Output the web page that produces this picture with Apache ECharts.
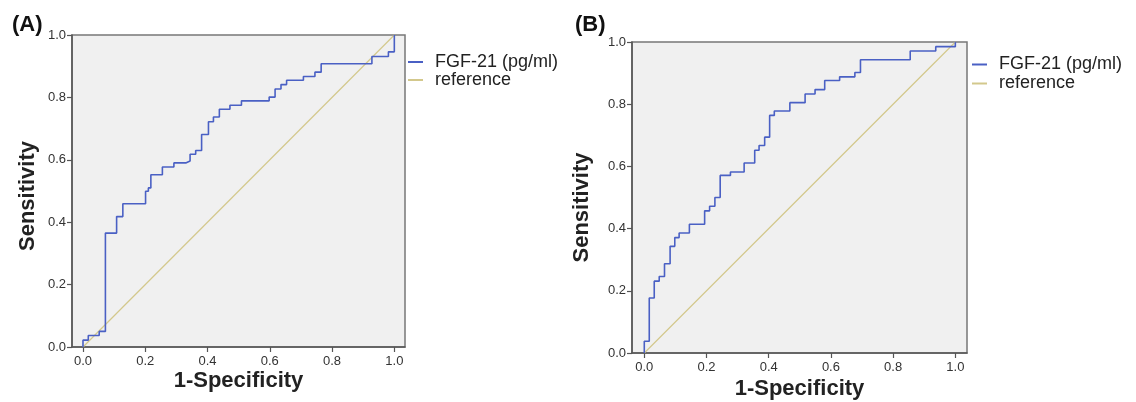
<!DOCTYPE html>
<html>
<head>
<meta charset="utf-8">
<script src="https://cdn.jsdelivr.net/npm/echarts@6/dist/echarts.min.js"></script>
<style>
  html, body { margin: 0; padding: 0; background: #ffffff; }
  #chart { width: 1136px; height: 402px; }
</style>
</head>
<body>
<div id="chart"></div>
<script>
// ROC operating points (1-specificity, sensitivity), panel A
const rocA_fpr = [0, 0, 0.017, 0.052, 0.072, 0.108, 0.128, 0.201, 0.210, 0.218, 0.255, 0.292, 0.330, 0.344, 0.362, 0.381, 0.403, 0.419, 0.438, 0.472, 0.509, 0.598, 0.617, 0.636, 0.654, 0.708, 0.745, 0.765, 0.928, 0.981, 1.0];
const rocA_tpr = [0, 0.022, 0.037, 0.050, 0.365, 0.418, 0.459, 0.499, 0.510, 0.552, 0.577, 0.590, 0.596, 0.618, 0.630, 0.681, 0.722, 0.737, 0.762, 0.775, 0.789, 0.801, 0.827, 0.841, 0.855, 0.867, 0.881, 0.908, 0.931, 0.946, 1.0];

// ROC operating points, panel B
const rocB_fpr = [0, 0, 0.016, 0.032, 0.048, 0.065, 0.083, 0.098, 0.112, 0.145, 0.194, 0.210, 0.227, 0.244, 0.277, 0.321, 0.355, 0.369, 0.387, 0.403, 0.418, 0.468, 0.517, 0.549, 0.580, 0.628, 0.677, 0.695, 0.855, 0.937, 1.0];
const rocB_tpr = [0, 0.038, 0.177, 0.231, 0.246, 0.287, 0.343, 0.371, 0.386, 0.414, 0.457, 0.472, 0.500, 0.571, 0.582, 0.611, 0.652, 0.667, 0.694, 0.764, 0.778, 0.805, 0.833, 0.847, 0.876, 0.888, 0.902, 0.943, 0.971, 0.985, 1.0];

// chance diagonal
const refX = [0, 1];
const refY = [0, 1];

const tickValues = [0, 0.2, 0.4, 0.6, 0.8, 1.0];
const seriesNames = ['FGF-21 (pg/ml)', 'reference'];
const panelLabels = ['(A)', '(B)'];
const xAxisTitle = '1-Specificity';
const yAxisTitle = 'Sensitivity';

const BLUE = '#4a60c4';
const TAN = '#d3c88c';
const FONT = '"Liberation Sans", Arial, sans-serif';

const pairs = (xs, ys) => xs.map((x, i) => [x, ys[i]]);

function xAxisFor(gridIndex, min, max, gap) {
  return {
    type: 'value', gridIndex, min, max,
    name: xAxisTitle, nameLocation: 'middle', nameGap: gap, nameMoveOverlap: false,
    nameTextStyle: { fontFamily: FONT, fontSize: 22, fontWeight: 'bold', color: '#222' },
    axisLine: { show: true, onZero: false, lineStyle: { color: '#555', width: 1.5 } },
    axisTick: { show: true, length: 5, customValues: tickValues, lineStyle: { color: '#555', width: 1.2 } },
    axisLabel: { customValues: tickValues, margin: 8, fontFamily: FONT, fontSize: 13, color: '#333',
                 formatter: v => v.toFixed(1) },
    splitLine: { show: false }
  };
}
function yAxisFor(gridIndex, gap, shift) {
  return {
    type: 'value', gridIndex, min: 0, max: 1, interval: 0.2,
    name: yAxisTitle, nameLocation: 'middle', nameGap: gap, nameMoveOverlap: false,
    nameTextStyle: { fontFamily: FONT, fontSize: 22, fontWeight: 'bold', color: '#222', padding: [0, shift, 0, 0] },
    axisLine: { show: true, onZero: false, lineStyle: { color: '#555', width: 1.5 } },
    axisTick: { show: true, length: 5, lineStyle: { color: '#555', width: 1.2 } },
    axisLabel: { margin: 6, fontFamily: FONT, fontSize: 13, color: '#333',
                 formatter: v => v.toFixed(1) },
    splitLine: { show: false }
  };
}
function legendFor(left, top, lineH) {
  return {
    left, top, orient: 'vertical', itemGap: 0, padding: 0,
    icon: 'rect', itemWidth: 15, itemHeight: 2,
    data: seriesNames,
    textStyle: { fontFamily: FONT, fontSize: 18, color: '#222', lineHeight: lineH, padding: [0, 0, 0, 7] }
  };
}

const chart = echarts.init(document.getElementById('chart'), null, { renderer: 'canvas' });
chart.setOption({
  animation: false,
  backgroundColor: '#ffffff',
  title: [
    { text: panelLabels[0], left: 7, top: 9, textStyle: { fontFamily: FONT, fontSize: 22, fontWeight: 'bold', color: '#111' } },
    { text: panelLabels[1], left: 570, top: 9, textStyle: { fontFamily: FONT, fontSize: 22, fontWeight: 'bold', color: '#111' } }
  ],
  legend: [legendFor(408, 53, 17), legendFor(972, 55, 19)],
  grid: [
    { left: 72, top: 35, width: 333, height: 312, show: true, outerBoundsMode: 'none', containLabel: false,
      backgroundColor: '#f0f0f0', borderColor: '#777', borderWidth: 1.5 },
    { left: 632, top: 42, width: 335, height: 311, show: true, outerBoundsMode: 'none', containLabel: false,
      backgroundColor: '#f0f0f0', borderColor: '#777', borderWidth: 1.5 }
  ],
  xAxis: [xAxisFor(0, -0.0353, 1.0343, 23), xAxisFor(1, -0.0395, 1.0375, 25)],
  yAxis: [yAxisFor(0, 33, 10), yAxisFor(1, 39, 20)],
  series: [
    { name: seriesNames[0], type: 'line', xAxisIndex: 0, yAxisIndex: 0, step: 'end', symbol: 'none',
      data: pairs(rocA_fpr, rocA_tpr), lineStyle: { color: BLUE, width: 1.6 }, itemStyle: { color: BLUE }, z: 3 },
    { name: seriesNames[1], type: 'line', xAxisIndex: 0, yAxisIndex: 0, symbol: 'none',
      data: pairs(refX, refY), lineStyle: { color: TAN, width: 1.2 }, itemStyle: { color: TAN }, z: 2 },
    { name: seriesNames[0], type: 'line', xAxisIndex: 1, yAxisIndex: 1, step: 'end', symbol: 'none',
      data: pairs(rocB_fpr, rocB_tpr), lineStyle: { color: BLUE, width: 1.6 }, itemStyle: { color: BLUE }, z: 3 },
    { name: seriesNames[1], type: 'line', xAxisIndex: 1, yAxisIndex: 1, symbol: 'none',
      data: pairs(refX, refY), lineStyle: { color: TAN, width: 1.2 }, itemStyle: { color: TAN }, z: 2 }
  ]
});
</script>
</body>
</html>
